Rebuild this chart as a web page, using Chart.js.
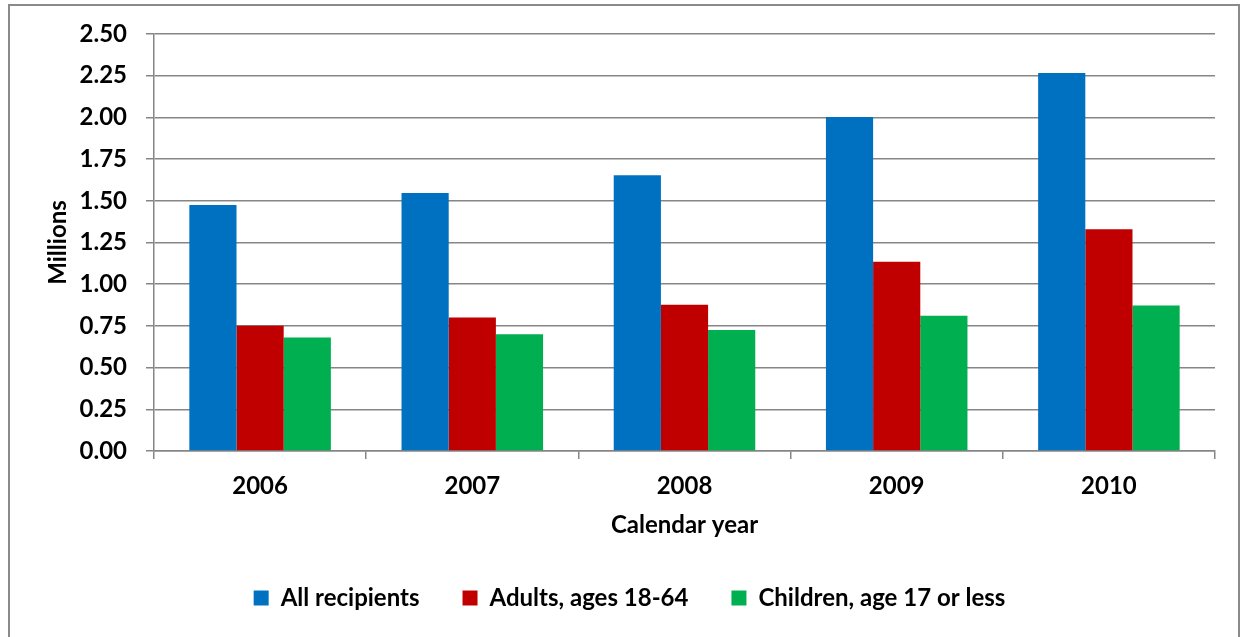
<!DOCTYPE html>
<html>
<head>
<meta charset="utf-8">
<script src="https://cdn.jsdelivr.net/npm/chart.js@4"></script>
<style>
  html, body { margin: 0; padding: 0; background: #fff; }
  #wrap { width: 1241px; height: 637px; position: relative; }
</style>
</head>
<body>
<div id="wrap"><canvas id="c"></canvas></div>
<script>
// annees
const years = ['2006', '2007', '2008', '2009', '2010'];
// valeurs en millions
const allRecipients = [1.475, 1.547, 1.653, 2.002, 2.266];
const adults = [0.751, 0.800, 0.877, 1.135, 1.329];
const children = [0.680, 0.700, 0.725, 0.811, 0.873];
const seriesNames = ['All recipients', 'Adults, ages 18-64', 'Children, age 17 or less'];
const yTicks = [0, 0.25, 0.5, 0.75, 1, 1.25, 1.5, 1.75, 2, 2.25, 2.5];

const font = 'Lato, "DejaVu Sans", sans-serif';
const gridColor = '#868686';

// cadre gris autour du graphique
const framePlugin = {
    id: 'frame',
    beforeDraw(chart) {
        const ctx = chart.ctx;
        ctx.save();
        ctx.fillStyle = '#fff';
        ctx.fillRect(0, 0, chart.width, chart.height);
        ctx.strokeStyle = '#8a8a8a';
        ctx.lineWidth = 2;
        ctx.strokeRect(9, 5, 1230, 640);
        ctx.restore();
    }
};

let conData = {
    labels: years,
    datasets: [
        { label: seriesNames[0], data: allRecipients, backgroundColor: '#0070C0' },
        { label: seriesNames[1], data: adults, backgroundColor: '#C00000' },
        { label: seriesNames[2], data: children, backgroundColor: '#00B050' }
    ]
};

let options = {
    responsive: false,
    animation: false,
    layout: { padding: { left: 44, right: 26, top: 34, bottom: 17 } },
    datasets: { bar: { categoryPercentage: 0.667, barPercentage: 1.0 } },
    plugins: {
        legend: {
            position: 'bottom',
            labels: {
                font: { family: font, size: 24, weight: 'bold' },
                color: '#000',
                boxWidth: 15,
                boxHeight: 15,
                padding: 43
            }
        },
        tooltip: { enabled: false }
    },
    scales: {
        x: {
            afterFit: (s) => { s.height = 92; },
            grid: { offset: true, drawOnChartArea: false, drawTicks: true, tickLength: 8, color: gridColor, lineWidth: 1.5 },
            border: { color: gridColor, width: 1.5 },
            ticks: { font: { family: font, size: 24, weight: 'bold' }, color: '#000', padding: 13 },
            title: {
                display: true, text: 'Calendar year', color: '#000',
                font: { family: font, size: 24, weight: 'bold' },
                padding: { top: 0, bottom: 3 }
            }
        },
        y: {
            min: 0,
            max: 2.5,
            afterFit: (s) => { s.width = 110; },
            afterBuildTicks: (s) => { s.ticks = yTicks.map(v => ({ value: v })); },
            grid: { color: gridColor, lineWidth: 1.5, tickLength: 8 },
            border: { color: gridColor, width: 1.5 },
            ticks: {
                font: { family: font, size: 24, weight: 'bold' }, color: '#000', padding: 19,
                callback: (v) => Number(v).toFixed(2)
            },
            title: {
                display: true, text: 'Millions', color: '#000',
                font: { family: font, size: 24, weight: 'bold' },
                padding: { top: 0, bottom: 0 }
            }
        }
    }
};

const canvas = document.getElementById('c');
canvas.width = 1241;
canvas.height = 637;
new Chart(canvas.getContext('2d'), { type: 'bar', data: conData, options: options, plugins: [framePlugin] });
</script>
</body>
</html>
